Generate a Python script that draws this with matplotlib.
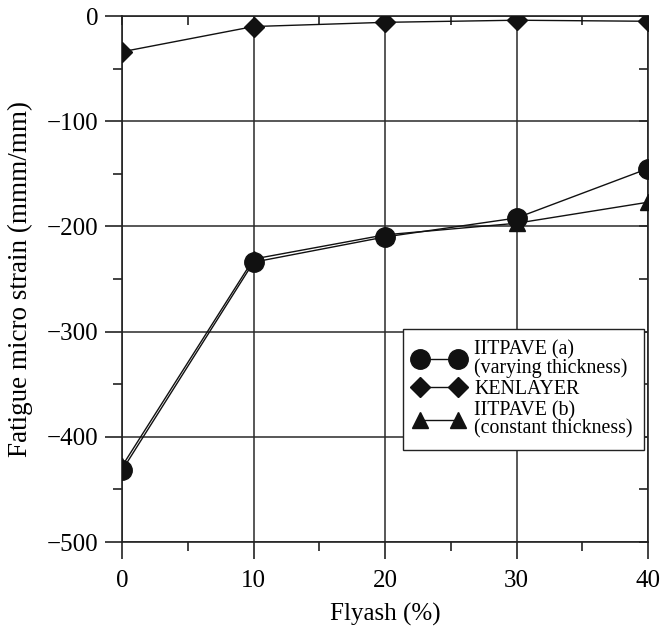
import matplotlib
matplotlib.use("Agg")
import matplotlib.pyplot as plt
from matplotlib.ticker import MultipleLocator

flyash = [0, 10, 20, 30, 40]
iitpave_a = [-432, -234, -210, -192, -145]
kenlayer = [-34, -10, -6, -4, -5]
iitpave_b = [-428, -231, -208, -197, -177]

x_ticks = [0, 10, 20, 30, 40]
y_ticks = [0, -100, -200, -300, -400, -500]
y_ticklabels = ['0', '\u2212100', '\u2212200', '\u2212300', '\u2212400', '\u2212500']

plt.rcParams['font.family'] = ['Liberation Serif', 'DejaVu Serif']

fig = plt.figure(figsize=(6.62, 6.28), dpi=100)
ax = fig.add_axes([0.1843, 0.1369, 0.7946, 0.8376])

ax.plot(flyash, iitpave_b, color='#111111', lw=1.0, marker='^', ms=12,
        label='IITPAVE (b)\n(constant thickness)', zorder=3)
ax.plot(flyash, iitpave_a, color='#111111', lw=1.0, marker='o', ms=14,
        label='IITPAVE (a)\n(varying thickness)', zorder=4)
ax.plot(flyash, kenlayer, color='#111111', lw=1.0, marker='D', ms=10,
        label='KENLAYER', zorder=4)

ax.set_xlim(0, 40)
ax.set_ylim(-500, 0)
ax.set_xticks(x_ticks)
ax.set_xticklabels([str(v) for v in x_ticks])
ax.set_yticks(y_ticks)
ax.set_yticklabels(y_ticklabels)
ax.xaxis.set_minor_locator(MultipleLocator(5))
ax.yaxis.set_minor_locator(MultipleLocator(50))
ax.grid(True, which='major', color='#2a2a2a', lw=1.1)
for s in ax.spines.values():
    s.set_color('#222222')
    s.set_linewidth(1.2)
ax.tick_params(which='major', direction='out', length=12, width=1.2,
               labelsize=18, color='#222222')
ax.tick_params(which='major', axis='x', pad=8)
ax.tick_params(which='major', axis='y', pad=5)
ax.tick_params(which='minor', direction='out', length=6.5, width=1.2,
               color='#222222')

# inward minor ticks along the top and right edges
sec_top = ax.secondary_xaxis('top')
sec_top.set_xticks([])
sec_top.spines['top'].set_visible(False)
sec_top.xaxis.set_minor_locator(MultipleLocator(5))
sec_top.tick_params(which='minor', direction='in', length=6.5, width=1.2,
                    color='#222222')
sec_right = ax.secondary_yaxis('right')
sec_right.set_yticks([])
sec_right.spines['right'].set_visible(False)
sec_right.yaxis.set_minor_locator(MultipleLocator(50))
sec_right.tick_params(which='minor', direction='in', length=6.5, width=1.2,
                      color='#222222')

ax.set_xlabel('Flyash (%)', fontsize=18, labelpad=8)
ax.set_ylabel('Fatigue micro strain (mmm/mm)', fontsize=19.5, labelpad=10)

handles, labels = ax.get_legend_handles_labels()
order = [1, 2, 0]
leg = ax.legend([handles[i] for i in order], [labels[i] for i in order],
                loc='upper left', bbox_to_anchor=(403 / 662, 1 - 329 / 628),
                bbox_transform=fig.transFigure, fontsize=14.3, numpoints=2,
                frameon=True, fancybox=False, edgecolor='#222222',
                framealpha=1, borderpad=0.55, labelspacing=0.1,
                handlelength=2.5, handletextpad=0.55, borderaxespad=0)
leg.get_frame().set_linewidth(1.0)
for txt in leg.get_texts():
    txt.set_linespacing(0.95)

fig.savefig('out.png', dpi=100)
